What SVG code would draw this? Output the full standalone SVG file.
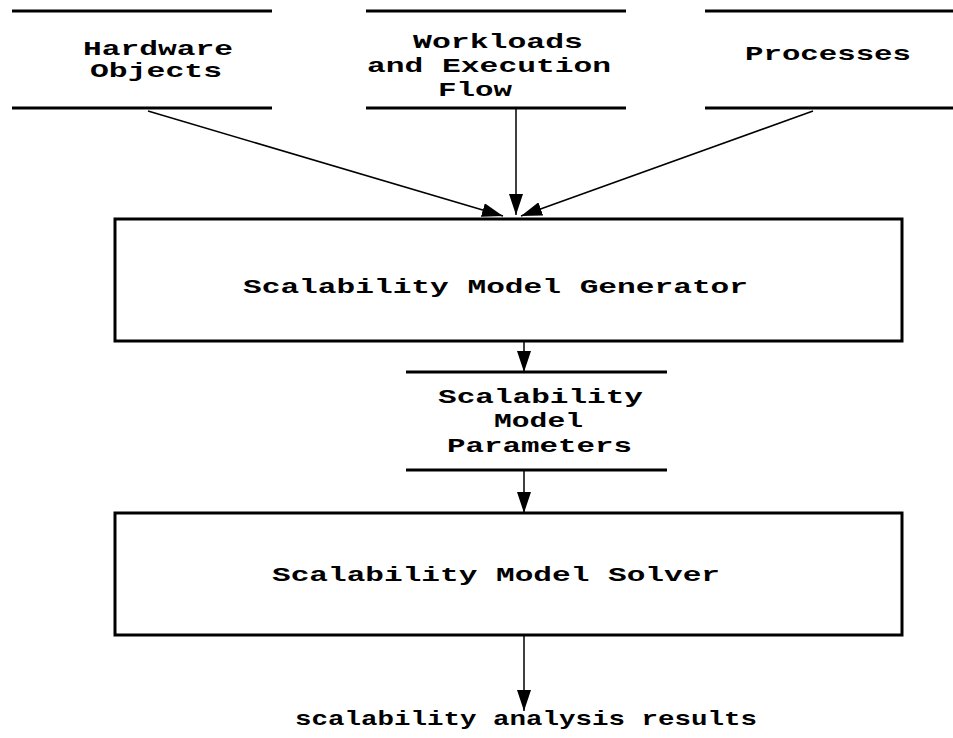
<svg xmlns="http://www.w3.org/2000/svg" width="953" height="738" viewBox="0 0 953 738">
  <style>
    .store { stroke: #000; stroke-width: 3; fill: none; }
    .box { stroke: #000; stroke-width: 3; fill: #fff; }
    .edge { stroke: #000; stroke-width: 1.5; fill: none; marker-end: url(#arrow); }
    text { font-family: "Liberation Mono", "Courier New", monospace; font-weight: bold; font-size: 21px; fill: #000; }
  </style>
  <defs>
    <marker id="arrow" markerUnits="userSpaceOnUse" markerWidth="22" markerHeight="14" refX="21" refY="7" orient="auto">
      <path d="M0,0 L21,7 L0,14 Z" fill="#000"/>
    </marker>
  </defs>
  <rect width="953" height="738" fill="#fff"/>

  <g id="connectors">
    <line class="edge" x1="148" y1="111" x2="503" y2="216"/>
    <line class="edge" x1="516" y1="108" x2="516" y2="215"/>
    <line class="edge" x1="813" y1="111" x2="521" y2="216"/>
    <line class="edge" x1="524" y1="341" x2="524" y2="372"/>
    <line class="edge" x1="524" y1="470" x2="524" y2="513"/>
    <line class="edge" x1="524" y1="635" x2="524" y2="711"/>
  </g>

  <g id="hardware-objects">
    <line class="store" x1="12" y1="11" x2="272" y2="11"/>
    <line class="store" x1="12" y1="108" x2="272" y2="108"/>
    <text x="83" y="55" textLength="150" lengthAdjust="spacingAndGlyphs">Hardware</text>
    <text x="90" y="77" textLength="132" lengthAdjust="spacingAndGlyphs">Objects</text>
  </g>

  <g id="workloads">
    <line class="store" x1="366" y1="11" x2="626" y2="11"/>
    <line class="store" x1="366" y1="108" x2="626" y2="108"/>
    <text x="413" y="48" textLength="170" lengthAdjust="spacingAndGlyphs">Workloads</text>
    <text x="367" y="72" textLength="244" lengthAdjust="spacingAndGlyphs">and Execution</text>
    <text x="438" y="96" textLength="74" lengthAdjust="spacingAndGlyphs">Flow</text>
  </g>

  <g id="processes">
    <line class="store" x1="705" y1="11" x2="953" y2="11"/>
    <line class="store" x1="705" y1="108" x2="953" y2="108"/>
    <text x="745" y="60" textLength="166" lengthAdjust="spacingAndGlyphs">Processes</text>
  </g>

  <g id="model-generator">
    <rect class="box" x="115" y="219" width="787" height="122"/>
    <text x="243" y="293" textLength="505" lengthAdjust="spacingAndGlyphs">Scalability Model Generator</text>
  </g>

  <g id="model-parameters">
    <line class="store" x1="406" y1="372" x2="667" y2="372"/>
    <line class="store" x1="406" y1="470" x2="667" y2="470"/>
    <text x="438" y="403" textLength="205" lengthAdjust="spacingAndGlyphs">Scalability</text>
    <text x="494" y="427" textLength="89" lengthAdjust="spacingAndGlyphs">Model</text>
    <text x="447" y="452" textLength="185" lengthAdjust="spacingAndGlyphs">Parameters</text>
  </g>

  <g id="model-solver">
    <rect class="box" x="115" y="513" width="787" height="122"/>
    <text x="272" y="581" textLength="448" lengthAdjust="spacingAndGlyphs">Scalability Model Solver</text>
  </g>

  <g id="results">
    <text x="295" y="725" textLength="462" lengthAdjust="spacingAndGlyphs">scalability analysis results</text>
  </g>
</svg>
